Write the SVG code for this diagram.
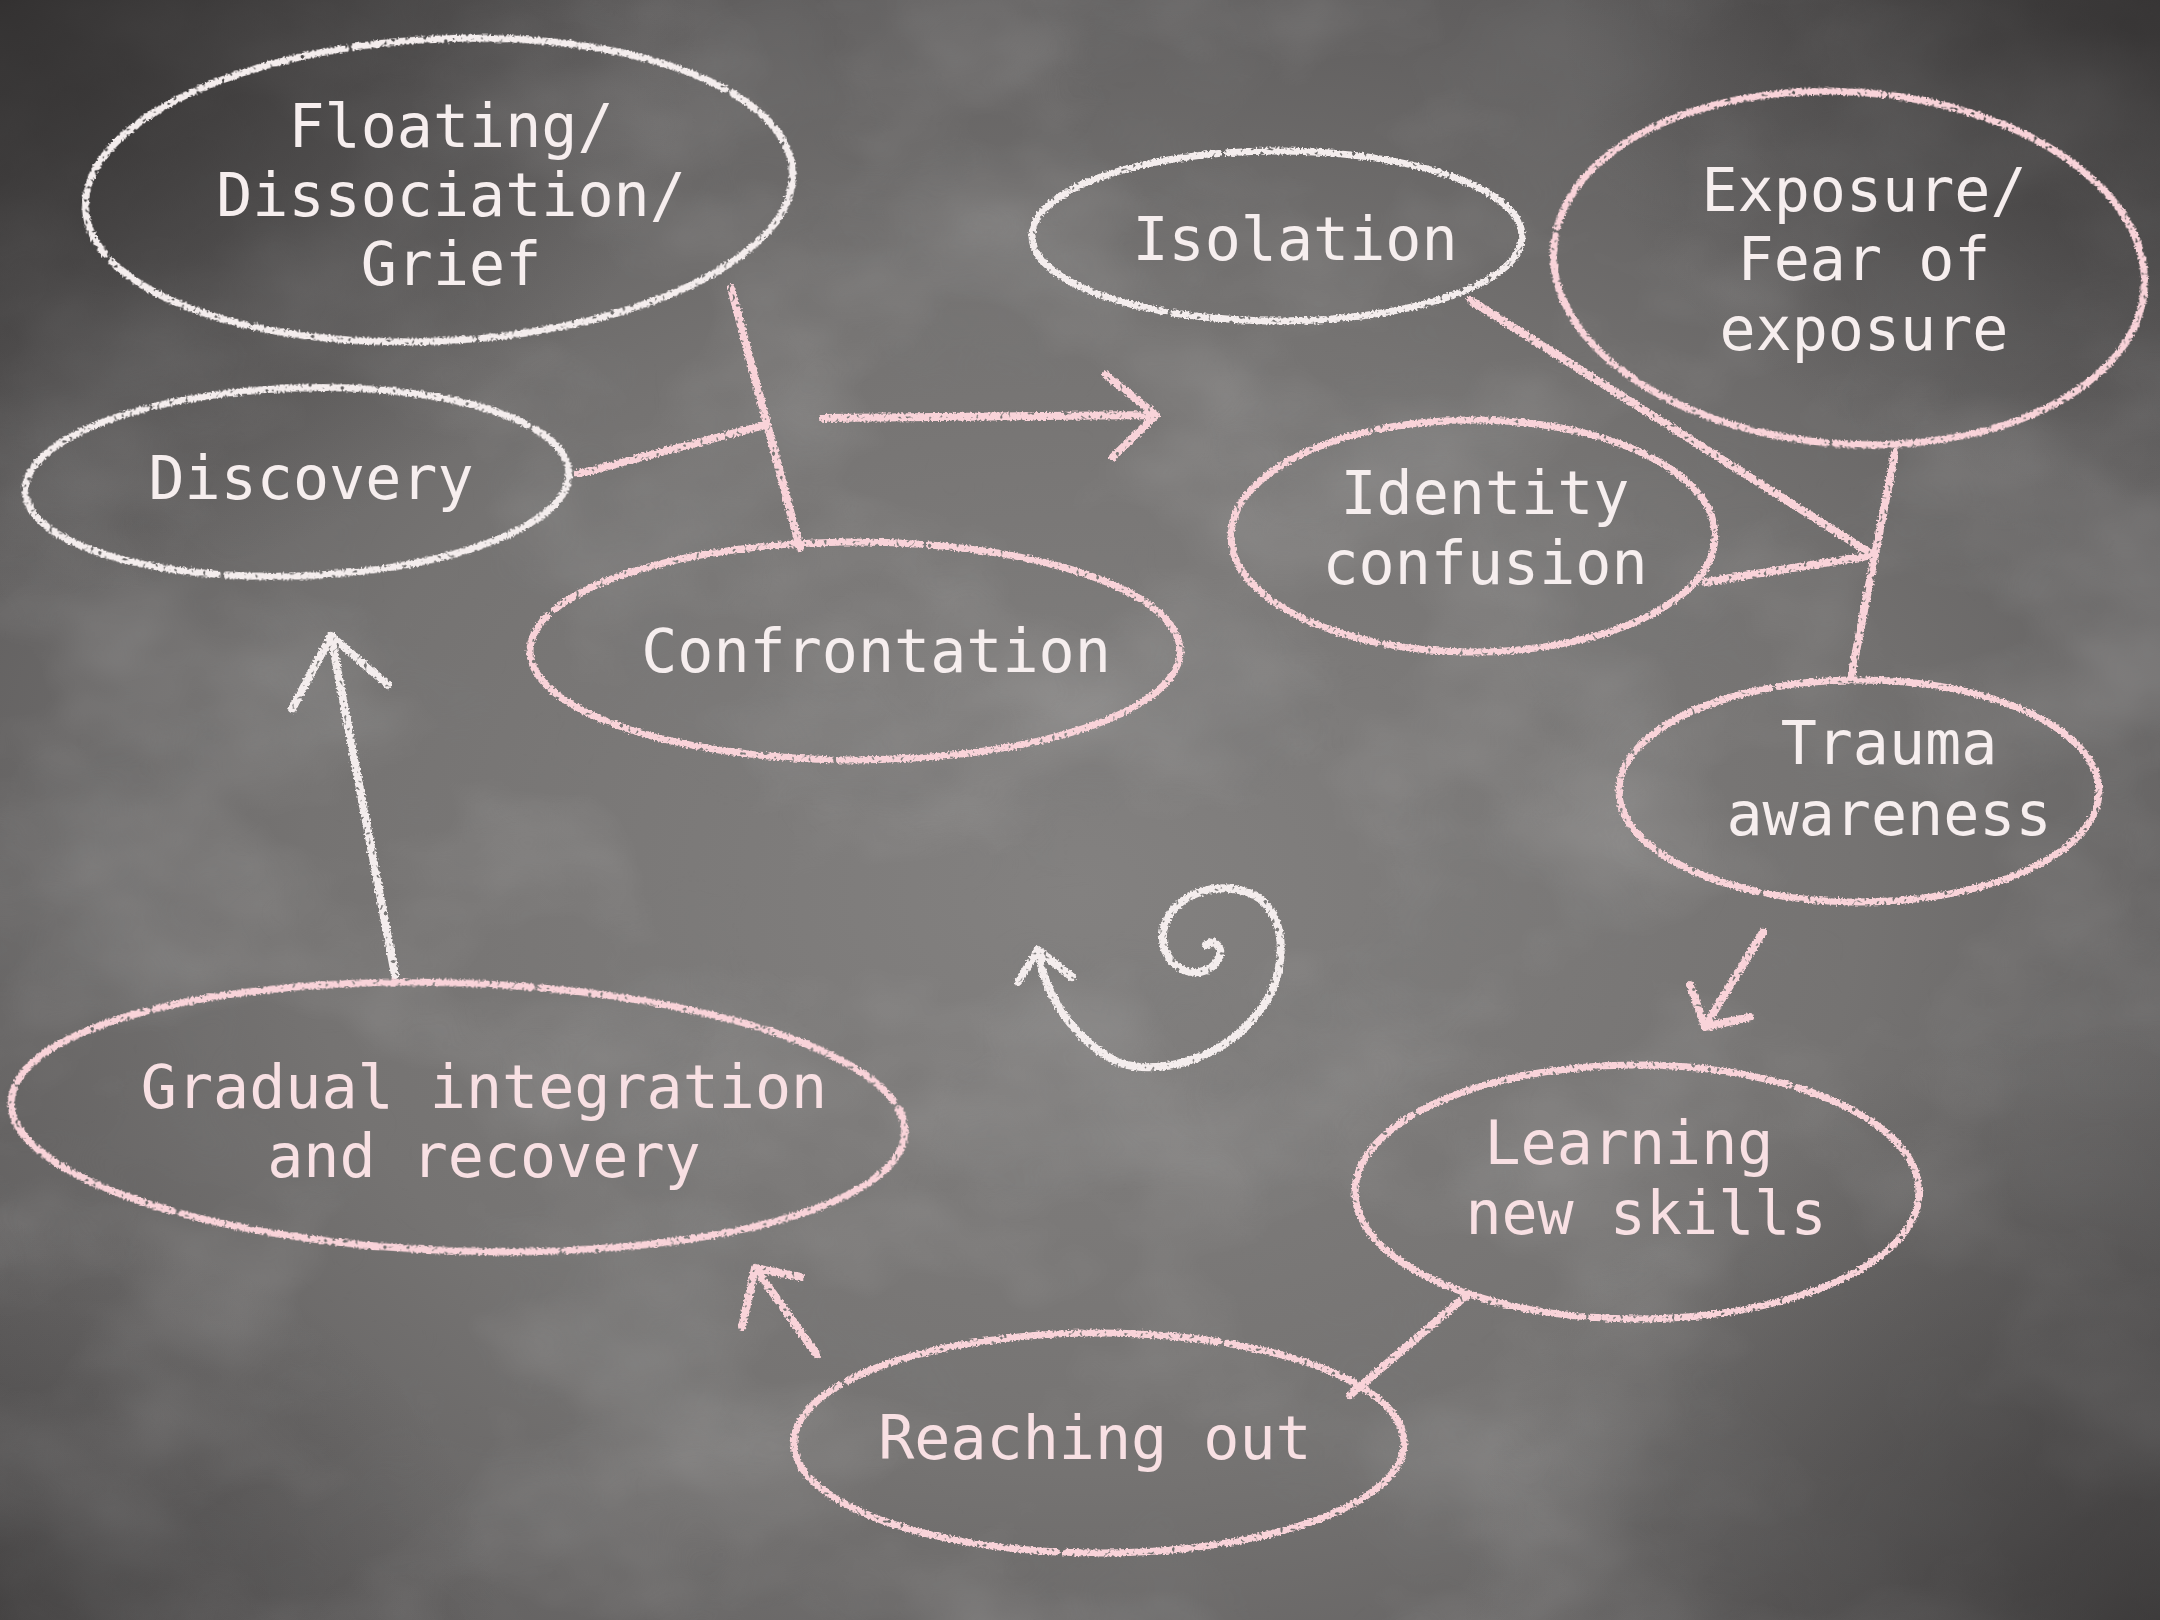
<svg xmlns="http://www.w3.org/2000/svg" width="2160" height="1620" viewBox="0 0 2160 1620">
<defs>
<radialGradient id="bg" cx="0.5" cy="0.55" r="0.72">
<stop offset="0" stop-color="#838180"/>
<stop offset="0.5" stop-color="#757372"/>
<stop offset="0.82" stop-color="#5f5d5d"/>
<stop offset="1" stop-color="#484646"/>
</radialGradient>
<radialGradient id="corner" r="0.5">
<stop offset="0" stop-color="#2e2c2c" stop-opacity="0.85"/>
<stop offset="1" stop-color="#2e2c2c" stop-opacity="0"/>
</radialGradient>
<filter id="clouds" x="0" y="0" width="100%" height="100%">
<feTurbulence type="fractalNoise" baseFrequency="0.0035 0.005" numOctaves="4" seed="7"/>
<feColorMatrix type="matrix" values="0 0 0 0 1  0 0 0 0 1  0 0 0 0 1  1.8 0 0 0 -0.8"/>
</filter>
<filter id="darkclouds" x="0" y="0" width="100%" height="100%">
<feTurbulence type="fractalNoise" baseFrequency="0.004 0.005" numOctaves="3" seed="21"/>
<feColorMatrix type="matrix" values="0 0 0 0 0.2  0 0 0 0 0.2  0 0 0 0 0.2  1.8 0 0 0 -0.8"/>
</filter>
<filter id="chalk" x="-5%" y="-5%" width="110%" height="110%">
<feTurbulence type="fractalNoise" baseFrequency="0.5" numOctaves="2" seed="3" result="n"/>
<feDisplacementMap in="SourceGraphic" in2="n" scale="5" xChannelSelector="R" yChannelSelector="G" result="d"/>
<feTurbulence type="fractalNoise" baseFrequency="0.25" numOctaves="1" seed="9" result="n2"/>
<feColorMatrix in="n2" type="matrix" values="0 0 0 0 0  0 0 0 0 0  0 0 0 0 0  9 0 0 0 -2.4" result="m"/>
<feComposite in="d" in2="m" operator="in"/>
</filter>
<style>
.node ellipse{fill:none;stroke-width:7;stroke-linecap:round;stroke-dasharray:70 6 30 4 110 7 18 5 45 3 80 9;filter:url(#chalk)}
.pink{stroke:#f9d3d9}
.white{stroke:#f4eded}
.node text{font-family:"DejaVu Sans Mono","Liberation Mono",monospace;font-size:60px;text-anchor:middle;fill:#f6eeee}
.node text.pk{fill:#f8e0e3}
.conn path{fill:none;stroke-width:8;stroke-linecap:round;stroke-linejoin:round;filter:url(#chalk)}
</style>
</defs>
<rect width="2160" height="1620" fill="url(#bg)"/>
<rect width="2160" height="1620" filter="url(#clouds)" opacity="0.2"/>
<rect width="2160" height="1620" filter="url(#darkclouds)" opacity="0.35"/>
<ellipse cx="0" cy="0" rx="700" ry="600" fill="url(#corner)"/>
<ellipse cx="2160" cy="0" rx="600" ry="500" fill="url(#corner)" opacity="0.8"/>
<ellipse cx="2160" cy="1620" rx="700" ry="600" fill="url(#corner)" opacity="0.7"/>
<ellipse cx="0" cy="1620" rx="500" ry="400" fill="url(#corner)" opacity="0.5"/>

<g id="connectors" class="conn">
<path class="pink" d="M731,288 L800,548"/>
<path class="pink" d="M578,474 L765,425"/>
<path class="pink" d="M823,418 L1156,415 M1106,375 L1156,415 L1113,457"/>
<path class="pink" d="M1470,300 L1873,555 L1706,582"/>
<path class="pink" d="M1895,453 L1851,677"/>
<path class="pink" d="M1763,932 L1707,1023 M1690,985 L1705,1027 L1750,1017"/>
<path class="pink" d="M1467,1295 L1350,1395"/>
<path class="pink" d="M817,1355 L755,1268 M742,1327 L755,1268 L800,1277"/>
<path class="white" d="M395,975 L331,636 M292,709 L331,636 L388,685"/>
<path class="white" d="M1018,982 L1038,950 L1072,977 M1038,950 C1045,1000 1080,1045 1120,1063 C1160,1076 1230,1060 1267,1000 C1290,960 1285,905 1247,892 C1215,882 1175,893 1164,927 C1158,955 1178,975 1200,972 C1218,968 1228,950 1213,942 L1206,945"/>
</g>

<g id="node-floating" class="node">
<ellipse class="white" cx="439" cy="190" rx="354" ry="151" transform="rotate(-3 439 190)"/>
<text x="451" y="147">Floating/</text>
<text x="451" y="216">Dissociation/</text>
<text x="451" y="285">Grief</text>
</g>
<g id="node-discovery" class="node">
<ellipse class="white" cx="297" cy="482" rx="272" ry="94" transform="rotate(-2 297 482)"/>
<text x="311" y="499">Discovery</text>
</g>
<g id="node-confrontation" class="node">
<ellipse class="pink" cx="855" cy="651" rx="325" ry="109"/>
<text x="876" y="672">Confrontation</text>
</g>
<g id="node-isolation" class="node">
<ellipse class="white" cx="1277" cy="236" rx="245" ry="85"/>
<text x="1295" y="260">Isolation</text>
</g>
<g id="node-exposure" class="node">
<ellipse class="pink" cx="1849" cy="268" rx="296" ry="176" transform="rotate(4 1849 268)"/>
<text x="1864" y="211">Exposure/</text>
<text x="1864" y="280">Fear of</text>
<text x="1864" y="350">exposure</text>
</g>
<g id="node-identity" class="node">
<ellipse class="pink" cx="1473" cy="536" rx="242" ry="116"/>
<text x="1485" y="514">Identity</text>
<text x="1485" y="584">confusion</text>
</g>
<g id="node-trauma" class="node">
<ellipse class="pink" cx="1859" cy="791" rx="240" ry="111"/>
<text x="1889" y="764">Trauma</text>
<text x="1889" y="835">awareness</text>
</g>
<g id="node-learning" class="node">
<ellipse class="pink" cx="1637" cy="1192" rx="282" ry="127"/>
<text class="pk" x="1629" y="1164">Learning</text>
<text class="pk" x="1646" y="1234">new skills</text>
</g>
<g id="node-reaching" class="node">
<ellipse class="pink" cx="1099" cy="1443" rx="305" ry="110"/>
<text class="pk" x="1095" y="1459">Reaching out</text>
</g>
<g id="node-gradual" class="node">
<ellipse class="pink" cx="458" cy="1117" rx="447" ry="134" transform="rotate(2 458 1117)"/>
<text class="pk" x="484" y="1108">Gradual integration</text>
<text class="pk" x="484" y="1177">and recovery</text>
</g>
</svg>
